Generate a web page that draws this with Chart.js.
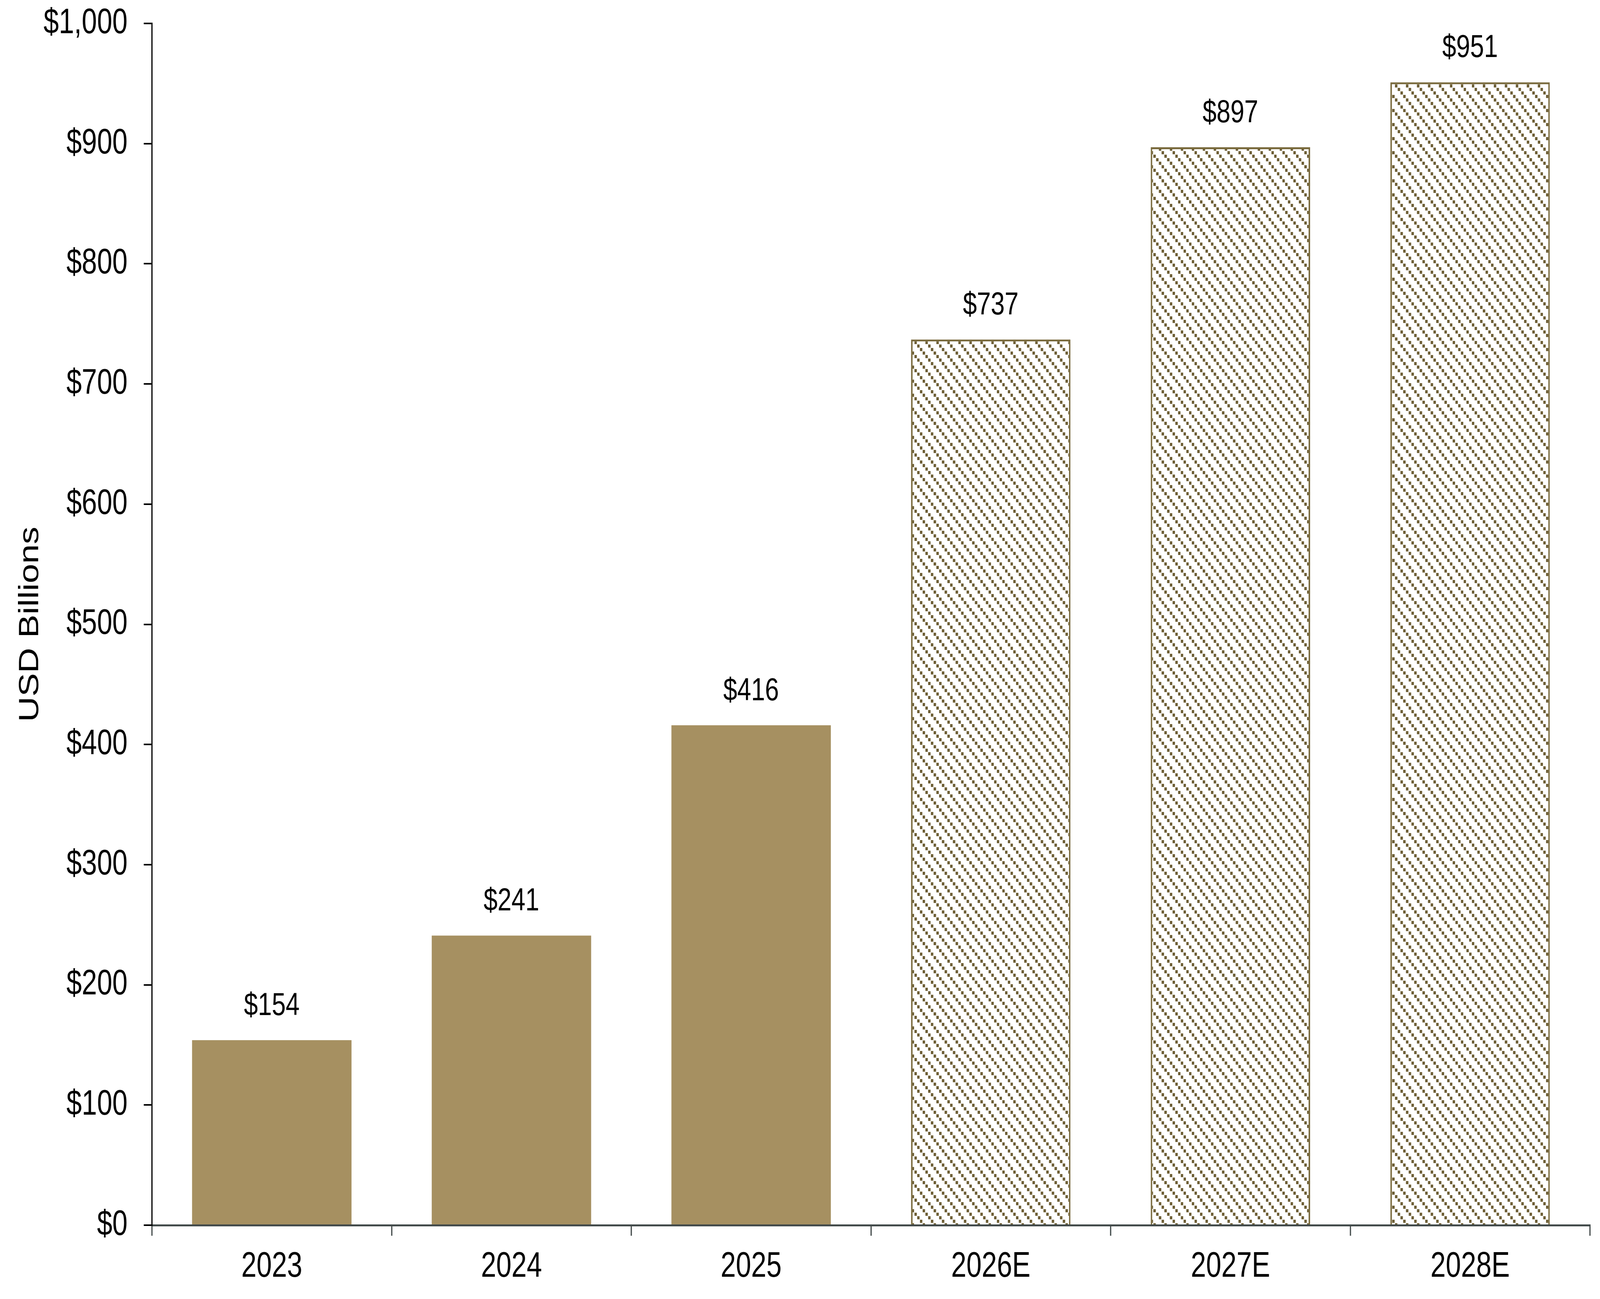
<!DOCTYPE html>
<html>
<head>
<meta charset="utf-8">
<script src="https://cdn.jsdelivr.net/npm/chart.js@4"></script>
<style>
  html, body { margin: 0; padding: 0; background: #fff; overflow: hidden; }
  /* the chart is drawn at 5244 x 3326 and fitted to whatever window we get */
  #Chart1 { display: block; width: 100vw !important; height: 100vh !important; }
</style>
</head>
<body>
<canvas id="Chart1" width="5244" height="3326"></canvas>
<script>
// data
var years = ['2023', '2024', '2025', '2026E', '2027E', '2028E'];
var spend = [154, 241, 416, 737, 897, 951];
var estimate = [false, false, false, true, true, true];
var yTicks = [0, 100, 200, 300, 400, 500, 600, 700, 800, 900, 1000];

var solidCol = '#a69061';
var hatchCol = '#6e5f36';
var edgeCol = '#7a6b3e';

// diagonal stair hatch, like the office-style pattern fill
function makeHatch() {
    var c = document.createElement('canvas');
    c.width = 36; c.height = 36;
    var g = c.getContext('2d');
    g.fillStyle = '#ffffff';
    g.fillRect(0, 0, 36, 36);
    g.fillStyle = hatchCol;
    for (var k = 0; k < 4; k++) {
        g.fillRect(k * 9, k * 9, 8, 8);
    }
    return g.createPattern(c, 'repeat');
}

var hatch = makeHatch();
var bgc = [], bdc = [], bdw = [];
for (var i = 0; i < years.length; i++) {
    bgc.push(estimate[i] ? hatch : solidCol);
    bdc.push(estimate[i] ? edgeCol : solidCol);
    bdw.push(estimate[i] ? 5 : 0);
}

function money(v) {
    return '$' + Number(v).toLocaleString('en-US');
}

// value labels above each bar
var barLabels = {
    id: 'barLabels',
    afterDatasetsDraw: function (chart) {
        var ctx = chart.ctx;
        var meta = chart.getDatasetMeta(0);
        ctx.save();
        ctx.font = '82px "Liberation Sans", Arial, sans-serif';
        ctx.fillStyle = '#000';
        ctx.textAlign = 'center';
        ctx.textBaseline = 'middle';
        meta.data.forEach(function (bar, idx) {
            ctx.fillText(money(spend[idx]), bar.x, bar.y - 87);
        });
        ctx.restore();
    }
};

var font90 = { family: '"Liberation Sans", Arial, sans-serif', size: 90 };

var ctx = document.getElementById('Chart1').getContext('2d');
var chart = new Chart(ctx, {
    type: 'bar',
    data: {
        labels: years,
        datasets: [{
            data: spend,
            backgroundColor: bgc,
            borderColor: bdc,
            borderWidth: bdw,
            borderSkipped: 'start',
            categoryPercentage: 1,
            barPercentage: 0.665
        }]
    },
    options: {
        responsive: false,
        devicePixelRatio: 1,
        animation: false,
        layout: { padding: { top: 60, right: 33, left: 0, bottom: 0 } },
        plugins: { legend: { display: false }, tooltip: { enabled: false } },
        scales: {
            x: {
                grid: { drawOnChartArea: false, drawTicks: true, tickLength: 27, color: '#444c4c', lineWidth: 4 },
                border: { display: true, color: '#444c4c', width: 5 },
                ticks: { color: '#000', font: font90, padding: 26, maxRotation: 0 },
                afterFit: function (s) { s.height = 189; s.paddingLeft = 0; s.paddingRight = 0; }
            },
            y: {
                min: 0,
                max: 1000,
                afterBuildTicks: function (s) {
                    s.ticks = yTicks.map(function (v) { return { value: v }; });
                },
                grid: { drawOnChartArea: false, drawTicks: true, tickLength: 27, color: '#000', lineWidth: 4 },
                border: { display: true, color: '#000', width: 4 },
                ticks: { color: '#000', font: font90, padding: 53, callback: function (v) { return money(v); } },
                title: { display: true, text: 'USD Billions', color: '#000', font: font90, padding: { top: 46, bottom: 0 } },
                afterFit: function (s) { s.width = 498; s.paddingTop = 0; s.paddingBottom = 0; }
            }
        }
    },
    plugins: [barLabels]
});
</script>
</body>
</html>
